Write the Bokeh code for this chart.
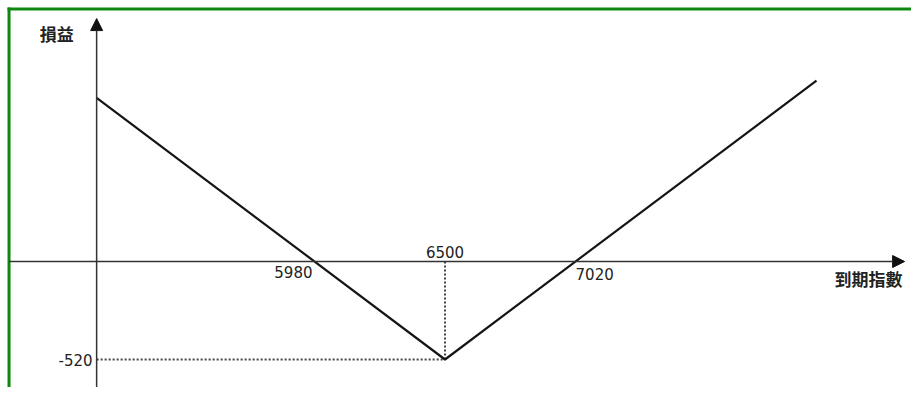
from bokeh.plotting import figure
from bokeh.models import Range1d, Arrow, NormalHead
from bokeh.core.properties import value
from bokeh.embed import file_html
from bokeh.resources import INLINE

# ---- data ----
index_levels = [5112, 6500, 7980]        # 到期指數 at the segment ends
profit_loss = [868, -520, 960]           # 損益 at those levels
strike = 6500
premium = -520
breakevens = [5980, 7020]
x_tick_labels = ["5980", "6500", "7020"]
y_tick_label = "-520"
y_axis_title = "損益"
x_axis_title = "到期指數"

# ---- layout ----
X0, X1 = 4729, 8358.5
Y0, Y1 = -668.6, 1385
origin_x = index_levels[0]     # where the vertical axis stands
y_axis_top = 1289
x_axis_tip = 8331
frame_x = 4763                 # green frame, left edge
frame_y = 1340                 # green frame, top edge

p = figure(width=911, height=387, output_backend="svg", toolbar_location=None,
           x_range=Range1d(X0, X1), y_range=Range1d(Y0, Y1),
           x_axis_type=None, y_axis_type=None, min_border=0,
           background_fill_color="white", border_fill_color="white")
p.grid.visible = False
p.outline_line_color = None

# green frame (left and top edges)
green = "#0f870f"
p.segment(x0=[frame_x, frame_x], y0=[Y0, frame_y], x1=[frame_x, X1], y1=[frame_y, frame_y],
          line_color=green, line_width=3, line_cap="square")

axis_color = "#333333"
# x axis with arrow
p.add_layout(Arrow(end=NormalHead(size=12, fill_color="#111111", line_color="#111111"),
                   x_start=frame_x, y_start=0, x_end=x_axis_tip, y_end=0,
                   line_color=axis_color, line_width=1.5))
# y axis with arrow
p.add_layout(Arrow(end=NormalHead(size=12, fill_color="#111111", line_color="#111111"),
                   x_start=origin_x, y_start=Y0, x_end=origin_x, y_end=y_axis_top,
                   line_color=axis_color, line_width=1.5))

# dotted guides
p.line([strike, strike], [0, premium], line_color="#444444", line_width=2, line_dash="2 2")
p.line([origin_x, strike], [premium, premium], line_color="#444444", line_width=2, line_dash="2 2")

# payoff line
p.line(index_levels, profit_loss, line_color="#151515", line_width=2.2)

num_font = value("DejaVu Sans")
cjk_font = value("Noto Sans CJK TC")
tc = "#222222"

# tick labels
p.text(x=[breakevens[0]], y=[0], text=[x_tick_labels[0]], text_font=num_font,
       text_font_size="15px", text_color=tc, text_align="right",
       text_baseline="alphabetic", x_offset=-2, y_offset=10)
p.text(x=[strike], y=[0], text=[x_tick_labels[1]], text_font=num_font,
       text_font_size="15px", text_color=tc, text_align="center",
       text_baseline="alphabetic", x_offset=0, y_offset=-10)
p.text(x=[breakevens[1]], y=[0], text=[x_tick_labels[2]], text_font=num_font,
       text_font_size="15px", text_color=tc, text_align="left",
       text_baseline="alphabetic", x_offset=0, y_offset=12)
p.text(x=[origin_x], y=[premium], text=[y_tick_label], text_font=num_font,
       text_font_size="15px", text_color=tc, text_align="right",
       text_baseline="alphabetic", x_offset=-4, y_offset=1)

# axis titles
p.text(x=[origin_x], y=[y_axis_top], text=[y_axis_title], text_font=cjk_font,
       text_font_size="17px", text_font_style="bold", text_color=tc, text_align="center",
       text_baseline="middle", x_offset=-40, y_offset=15)
p.text(x=[x_axis_tip], y=[0], text=[x_axis_title], text_font=cjk_font,
       text_font_size="17px", text_font_style="bold", text_color=tc, text_align="right",
       text_baseline="middle", x_offset=-2, y_offset=17)

open("out.html", "w").write(file_html(p, INLINE))
